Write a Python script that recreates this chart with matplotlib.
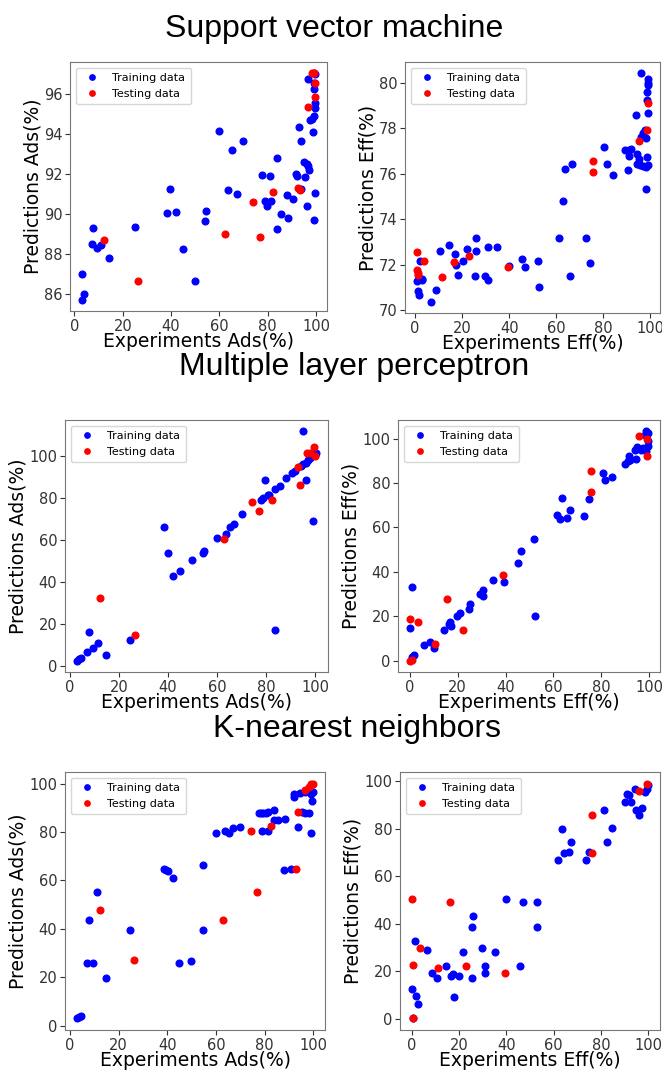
import matplotlib
matplotlib.use("Agg")
import matplotlib.pyplot as plt

# ---------------- Support vector machine ----------------
svm_ads_train_x = [3.0, 3.2, 4.1, 7.6, 7.2, 9.4, 11.1, 14.5, 24.9, 38.5, 39.7, 42.2, 45.0, 49.7,
                   54.1, 54.4, 60.0, 63.5, 65.1, 67.1, 69.7, 77.6, 78.7, 79.5, 80.9, 81.5, 83.7,
                   83.7, 85.5, 87.8, 88.4, 90.6, 91.7, 92.0, 92.9, 93.6, 93.6, 95.1, 95.4, 96.1,
                   96.4, 96.8, 97.2, 96.7, 97.6, 98.5, 98.9, 99.2, 99.6, 99.3, 99.7, 99.6, 99.3,
                   99.2, 99.3, 99.7]
svm_ads_train_y = [87.0, 85.7, 85.97, 89.28, 88.5, 88.28, 88.42, 87.78, 89.32, 90.03, 91.25, 90.12,
                   88.25, 86.65, 89.63, 90.13, 94.18, 91.18, 93.22, 91.0, 93.67, 91.97, 90.67,
                   90.42, 91.92, 90.67, 92.78, 89.22, 90.0, 90.95, 89.78, 90.75, 92.0, 91.88,
                   94.38, 93.67, 91.25, 92.58, 91.85, 92.5, 90.42, 92.42, 92.22, 96.78, 94.72,
                   94.78, 94.1, 89.68, 91.05, 94.92, 95.33, 95.58, 96.25, 96.55, 97.05, 97.0]
svm_ads_test_x = [12.4, 26.4, 62.5, 74.1, 76.8, 82.3, 92.4, 93.4, 96.5, 98.5, 99.3, 99.7, 99.7]
svm_ads_test_y = [88.7, 86.62, 88.98, 90.62, 88.85, 91.12, 91.32, 91.18, 95.38, 97.05, 97.05,
                  96.58, 95.87]

svm_eff_train_x = [96.3, 99.0, 99.0, 99.0, 98.8, 98.6, 99.3, 93.9, 97.7, 97.0, 96.0, 98.4, 80.6,
                   89.5, 91.2, 91.8, 91.2, 94.6, 95.3, 98.7, 81.6, 94.6, 95.8, 97.2, 98.3, 99.0,
                   90.5, 84.2, 98.4, 63.7, 66.9, 63.0, 61.4, 72.9, 74.6, 65.8, 45.3, 46.6, 52.4,
                   52.7, 25.8, 25.7, 22.0, 14.5, 10.6, 16.9, 17.5, 18.1, 20.2, 25.6, 29.7, 31.1,
                   31.1, 35.0, 39.8, 2.1, 2.8, 0.7, 2.8, 1.0, 1.7, 8.9, 6.6]
svm_eff_train_y = [80.41, 80.15, 80.0, 79.88, 79.59, 79.26, 78.68, 78.6, 77.94, 77.79, 77.62,
                   77.57, 77.18, 77.03, 77.03, 77.09, 76.76, 76.87, 76.65, 76.74, 76.44, 76.43,
                   76.4, 76.35, 76.29, 76.4, 76.15, 75.93, 75.35, 76.21, 76.44, 74.82, 73.16,
                   73.16, 72.06, 71.51, 72.26, 71.91, 72.18, 71.03, 73.19, 72.59, 72.71, 72.85,
                   72.6, 72.47, 72.01, 71.56, 72.18, 71.51, 71.51, 71.32, 72.79, 72.79, 71.94,
                   72.16, 71.35, 71.29, 71.38, 70.85, 70.69, 70.88, 70.38]
svm_eff_test_x = [0.6, 0.6, 1.0, 1.4, 3.8, 11.3, 16.4, 23.0, 39.4, 75.6, 75.7, 95.3, 98.6, 99.0]
svm_eff_test_y = [72.54, 71.76, 71.65, 71.54, 72.18, 71.47, 72.1, 72.37, 71.9, 76.57, 76.06,
                  77.44, 77.91, 79.12]

# ---------------- Multiple layer perceptron ----------------
mlp_ads_train_x = [2.8, 3.6, 4.6, 6.9, 7.6, 9.4, 11.2, 14.7, 24.6, 38.5, 39.8, 42.2, 45.0, 49.8,
                   54.5, 54.3, 60.0, 63.6, 65.4, 67.1, 70.0, 77.9, 78.6, 79.4, 80.6, 81.3, 83.8,
                   85.5, 88.2, 90.7, 91.7, 94.1, 95.2, 95.2, 96.3, 96.5, 97.2, 97.9, 98.6, 99.3,
                   100.0, 100.4, 83.8]
mlp_ads_train_y = [2.6, 3.2, 4.0, 6.9, 16.3, 8.8, 10.9, 5.3, 12.6, 66.4, 53.9, 42.9, 45.1, 50.7,
                   54.9, 54.0, 61.0, 63.0, 66.1, 67.7, 72.2, 79.2, 80.0, 88.5, 81.6, 81.6, 84.5,
                   85.6, 89.6, 92.0, 93.0, 95.2, 96.2, 111.7, 96.5, 88.5, 98.1, 98.9, 100.0, 69.0,
                   100.5, 101.6, 17.0]
mlp_ads_test_x = [12.4, 26.3, 62.8, 74.4, 77.0, 82.4, 93.1, 93.8, 96.8, 97.9, 99.6, 100.1]
mlp_ads_test_y = [32.5, 14.6, 60.5, 78.1, 73.8, 78.9, 94.9, 86.4, 101.6, 101.3, 104.5, 100.0]

mlp_eff_train_x = [0.8, 1.8, 0.0, 0.7, 6.0, 8.2, 10.0, 14.2, 16.2, 16.9, 17.3, 19.5, 21.1, 24.8,
                   25.0, 29.3, 30.4, 30.7, 34.6, 39.5, 45.1, 46.4, 52.0, 52.5, 61.3, 62.7, 63.4,
                   65.5, 66.9, 72.9, 74.7, 80.6, 81.7, 84.4, 90.0, 91.1, 91.8, 92.1, 94.7, 94.0,
                   95.0, 96.5, 97.5, 98.2, 98.9, 99.6, 99.6, 98.9, 99.6]
mlp_eff_train_y = [1.6, 2.4, 14.6, 33.2, 6.9, 8.2, 5.7, 13.9, 16.7, 17.6, 15.5, 20.3, 21.5, 23.1,
                   25.3, 30.0, 31.7, 29.1, 36.2, 35.5, 44.1, 49.3, 54.7, 20.3, 65.6, 63.6, 73.5,
                   64.5, 68.1, 65.3, 72.9, 84.6, 81.4, 82.6, 88.8, 89.9, 92.4, 90.6, 91.1, 95.1,
                   96.3, 94.8, 95.8, 101.8, 103.3, 102.5, 98.8, 94.3, 96.6]
mlp_eff_test_x = [0.0, 0.7, 0.0, 3.2, 10.5, 15.6, 22.2, 39.1, 75.7, 75.7, 95.6, 99.3, 99.3]
mlp_eff_test_y = [0.0, 0.4, 18.8, 17.6, 7.5, 27.6, 13.9, 38.5, 85.4, 76.0, 101.3, 99.9, 92.4]

# ---------------- K-nearest neighbors ----------------
knn_ads_train_x = [2.8, 3.6, 4.6, 6.9, 7.7, 9.4, 11.2, 14.7, 24.6, 38.5, 39.3, 40.1, 42.3, 45.0,
                   49.8, 54.5, 54.6, 60.2, 63.6, 65.4, 67.2, 70.0, 77.9, 78.6, 79.5, 80.6, 81.6,
                   79.0, 81.6, 83.8, 83.8, 85.5, 88.5, 88.0, 90.7, 92.0, 92.1, 94.5, 93.8, 95.4,
                   96.8, 98.2, 99.0, 99.6, 99.3, 96.5, 100.0]
knn_ads_train_y = [3.0, 3.6, 3.8, 26.0, 43.7, 26.0, 55.3, 19.6, 39.4, 64.7, 64.3, 64.0, 61.0, 26.0,
                   26.6, 39.4, 66.4, 79.7, 80.5, 79.7, 81.5, 82.1, 88.1, 88.1, 88.1, 88.1, 88.3,
                   80.4, 80.4, 89.0, 85.1, 85.1, 85.5, 64.2, 64.7, 95.7, 94.6, 96.0, 81.9, 88.3,
                   88.1, 88.1, 95.7, 92.9, 79.7, 96.4, 96.4]
knn_ads_test_x = [12.4, 26.4, 62.8, 74.4, 77.0, 82.6, 93.1, 93.8, 96.8, 98.2, 99.3, 100.0]
knn_ads_test_y = [47.7, 26.9, 43.7, 80.4, 55.3, 82.5, 64.7, 88.2, 97.4, 98.6, 99.7, 100.0]

knn_eff_train_x = [0.7, 0.0, 1.3, 1.8, 2.5, 6.5, 8.6, 10.5, 14.5, 16.7, 17.3, 17.8, 19.9, 21.8,
                   25.4, 25.4, 25.8, 29.8, 31.0, 31.0, 35.1, 40.0, 45.6, 46.9, 52.8, 53.1, 61.9,
                   63.3, 64.3, 66.4, 67.4, 73.5, 74.9, 81.2, 82.3, 84.7, 90.3, 91.0, 92.0, 92.7,
                   94.5, 94.9, 95.9, 97.3, 98.7, 99.4, 99.9]
knn_eff_train_y = [0.3, 12.5, 33.0, 9.5, 6.1, 29.1, 19.5, 17.3, 22.3, 17.9, 19.0, 9.4, 17.9, 28.0,
                   17.3, 38.6, 43.2, 30.0, 22.3, 19.5, 28.0, 50.6, 22.3, 49.3, 49.3, 38.6, 67.1,
                   79.8, 69.7, 70.2, 74.4, 67.0, 70.2, 87.8, 74.4, 80.3, 91.4, 94.7, 94.2, 91.4,
                   96.8, 87.9, 85.7, 88.9, 95.4, 96.8, 98.3]
knn_eff_test_x = [0.0, 0.4, 0.4, 3.5, 11.0, 16.2, 22.9, 39.5, 76.3, 76.3, 96.2, 99.4]
knn_eff_test_y = [50.4, 22.6, 0.3, 29.8, 21.6, 49.4, 22.5, 19.5, 85.7, 69.7, 96.1, 99.0]

section_titles = ["Support vector machine", "Multiple layer perceptron", "K-nearest neighbors"]
x_labels = ["Experiments Ads(%)", "Experiments Eff(%)"]
y_labels = ["Predictions Ads(%)", "Predictions Eff(%)"]

panels = [
    [(svm_ads_train_x, svm_ads_train_y, svm_ads_test_x, svm_ads_test_y),
     (svm_eff_train_x, svm_eff_train_y, svm_eff_test_x, svm_eff_test_y)],
    [(mlp_ads_train_x, mlp_ads_train_y, mlp_ads_test_x, mlp_ads_test_y),
     (mlp_eff_train_x, mlp_eff_train_y, mlp_eff_test_x, mlp_eff_test_y)],
    [(knn_ads_train_x, knn_ads_train_y, knn_ads_test_x, knn_ads_test_y),
     (knn_eff_train_x, knn_eff_train_y, knn_eff_test_x, knn_eff_test_y)],
]

W, H = 662, 1077
fig = plt.figure(figsize=(W / 100, H / 100), dpi=100)

# axes boxes in pixels: (left, top, right, bottom)
boxes = [
    [(70, 62, 327, 311), (405, 62, 660, 313)],
    [(65, 420, 328, 672), (398, 420, 660, 672)],
    [(65, 772, 325, 1030), (400, 772, 660, 1030)],
]
# section headings: centre x and baseline y, in pixels
title_x = [334, 354, 357]
title_base = [37, 375, 737]


def px_axes(box):
    l, t, r, b = box
    return fig.add_axes([l / W, 1 - b / H, (r - l) / W, (b - t) / H])


for row, (pair, bpair) in enumerate(zip(panels, boxes)):
    fig.text(title_x[row] / W, 1 - title_base[row] / H, section_titles[row], ha="center",
             va="baseline", fontsize=23, family="Liberation Sans")
    for col, ((tx, ty, sx, sy), box) in enumerate(zip(pair, bpair)):
        ax = px_axes(box)
        ax.plot(tx, ty, "o", color="blue", markersize=4.8, label="Training data")
        ax.plot(sx, sy, "o", color="red", markersize=4.8, label="Testing data")
        ax.set_xticks([0, 20, 40, 60, 80, 100])
        ax.set_xlabel(x_labels[col], fontsize=13.5, labelpad=-1)
        ax.set_ylabel(y_labels[col], fontsize=13.5, labelpad=1)
        ax.tick_params(labelsize=10.5, colors="#333333", pad=2)
        for sp in ax.spines.values():
            sp.set_color("#777777")
        ax.legend(loc="upper left", fontsize=8, markerscale=0.8, handletextpad=0.8,
                  borderpad=0.5, labelspacing=0.5)

fig.savefig("out.png", dpi=100)
